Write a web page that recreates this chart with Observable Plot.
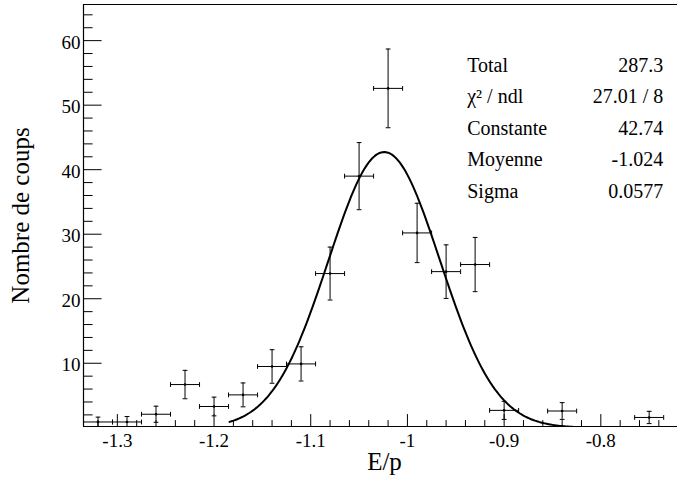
<!DOCTYPE html>
<html><head><meta charset="utf-8">
<script src="https://cdn.jsdelivr.net/npm/d3@7"></script>
<script src="https://cdn.jsdelivr.net/npm/@observablehq/plot@0.6"></script>
<style>html,body{margin:0;padding:0;background:#fff;} svg{display:block}</style>
</head><body><div id="chart"></div>
<script>
// Histogram (bin centres, contents, errors)
const binCenters = [-1.32,-1.29,-1.26,-1.23,-1.20,-1.17,-1.14,-1.11,-1.08,-1.05,-1.02,-0.99,-0.96,-0.93,-0.90,-0.84,-0.75];
const counts     = [0.9, 0.9, 2.1, 6.7, 3.3, 5.1, 9.5, 9.9, 23.9, 39.0, 52.6, 30.2, 24.2, 25.3, 2.7, 2.6, 1.6];
const errors     = [0.75,0.85,1.25,2.2, 1.45,1.85,2.6, 2.65,4.1, 5.2, 6.1, 4.6, 4.15, 4.2, 1.4, 1.3, 0.95];
const binHalfWidth = 0.015;

// Fit statistics box
const statLabels = ["Total", "χ² / ndl", "Constante", "Moyenne", "Sigma"];
const statValues = ["287.3", "27.01 / 8", "42.74", "-1.024", "0.0577"];

// Gaussian fit parameters (as printed in the stats box) and fit range
const fitConstant = 42.74, fitMean = -1.024, fitSigma = 0.0577;
const fitRange = [-1.184, -0.80];

// Axes
const xDomain = [-1.335, -0.7207];
const yDomain = [0.2, 65.6];
const xMajorTicks = [-1.3, -1.2, -1.1, -1.0, -0.9, -0.8];
const yMajorTicks = [10, 20, 30, 40, 50, 60];
const xMinorStep = 0.02, yMinorStep = 2;

const rows = binCenters.map((x, i) => ({x, y: counts[i], e: errors[i]}));
const curve = d3.range(fitRange[0], fitRange[1] + 1e-9, 0.002)
  .map(x => ({x, y: fitConstant * Math.exp(-0.5 * ((x - fitMean) / fitSigma) ** 2)}));

const xMinorTicks = d3.range(Math.ceil(xDomain[0] / xMinorStep), Math.floor(xDomain[1] / xMinorStep) + 1)
  .map(k => +(k * xMinorStep).toFixed(2)).filter(v => !xMajorTicks.some(m => Math.abs(m - v) < 1e-6));
const yMinorTicks = d3.range(yMinorStep, yDomain[1], yMinorStep).filter(v => v % 10 !== 0);

const lineUp = {draw(ctx, l) { ctx.moveTo(0, 0); ctx.lineTo(0, -l); }};
const lineCentered = {draw(ctx, l) { ctx.moveTo(0, -l / 2); ctx.lineTo(0, l / 2); }};

const capsV = rows.flatMap(d => [{x: d.x, y: d.y + d.e}, {x: d.x, y: d.y - d.e}]);
const capsH = rows.flatMap(d => [{x: d.x - binHalfWidth, y: d.y}, {x: d.x + binHalfWidth, y: d.y}]);

const fmtX = d => String(+d.toFixed(1));
const serif = "'Liberation Serif', 'Times New Roman', serif";

const chart = Plot.plot({
  width: 677, height: 484,
  marginLeft: 83, marginRight: 0, marginTop: 4, marginBottom: 58,
  x: {domain: xDomain},
  y: {domain: yDomain},
  style: {fontFamily: serif, fontSize: "19px", background: "#fff", color: "#000"},
  marks: [
    // frame lines
    Plot.ruleY(yDomain, {stroke: "#000", strokeWidth: 1.2}),
    Plot.ruleX([xDomain[0]], {stroke: "#000", strokeWidth: 1.2}),
    // ticks (inside)
    Plot.vector(xMajorTicks, {x: d => d, frameAnchor: "bottom", length: 12, anchor: "start", shape: lineUp, stroke: "#000", strokeWidth: 1}),
    Plot.vector(xMinorTicks, {x: d => d, frameAnchor: "bottom", length: 6, anchor: "start", shape: lineUp, stroke: "#000", strokeWidth: 1}),
    Plot.vector(yMajorTicks, {y: d => d, frameAnchor: "left", length: 17.7, rotate: 90, anchor: "start", shape: lineUp, stroke: "#000", strokeWidth: 1}),
    Plot.vector(yMinorTicks, {y: d => d, frameAnchor: "left", length: 8.7, rotate: 90, anchor: "start", shape: lineUp, stroke: "#000", strokeWidth: 1}),
    // tick labels
    Plot.axisX({ticks: xMajorTicks, tickSize: 0, tickPadding: 6.5, tickFormat: fmtX, label: null, fontSize: 19}),
    Plot.axisY({ticks: yMajorTicks, tickSize: 0, tickPadding: 3, tickFormat: d => String(d), label: null, fontSize: 19, dy: 2}),
    // axis titles
    Plot.text(["E/p"], {text: d => d, frameAnchor: "bottom", dx: 4, dy: 43, lineAnchor: "bottom", fontSize: 25}),
    Plot.text(["Nombre de coups"], {text: d => d, frameAnchor: "left", dx: -55, rotate: -90, lineAnchor: "bottom", textAnchor: "middle", fontSize: 25}),
    // error bars
    Plot.ruleX(rows, {x: "x", y1: d => d.y - d.e, y2: d => d.y + d.e, stroke: "#000", strokeWidth: 1, clip: true}),
    Plot.ruleY(rows, {y: "y", x1: d => d.x - binHalfWidth, x2: d => d.x + binHalfWidth, stroke: "#000", strokeWidth: 1, clip: true}),
    Plot.vector(capsV, {x: "x", y: "y", length: 4, rotate: 90, anchor: "start", shape: lineCentered, stroke: "#000", strokeWidth: 1, clip: true}),
    Plot.vector(capsH, {x: "x", y: "y", length: 4, anchor: "start", shape: lineCentered, stroke: "#000", strokeWidth: 1, clip: true}),
    Plot.dot(rows, {x: "x", y: "y", r: 1.3, fill: "#000", stroke: "none"}),
    // fit curve
    Plot.line(curve, {x: "x", y: "y", stroke: "#000", strokeWidth: 2, clip: true}),
    // stats box
    Plot.text([statLabels.join("\n")], {text: d => d, frameAnchor: "top-left", dx: 383.7, dy: 45, lineAnchor: "top", lineHeight: 1.575, textAnchor: "start", fontSize: 20}),
    Plot.text([statValues.join("\n")], {text: d => d, frameAnchor: "top-right", dx: -14.3, dy: 45, lineAnchor: "top", lineHeight: 1.575, textAnchor: "end", fontSize: 20})
  ]
});
document.getElementById("chart").appendChild(chart);
</script>
</body></html>
